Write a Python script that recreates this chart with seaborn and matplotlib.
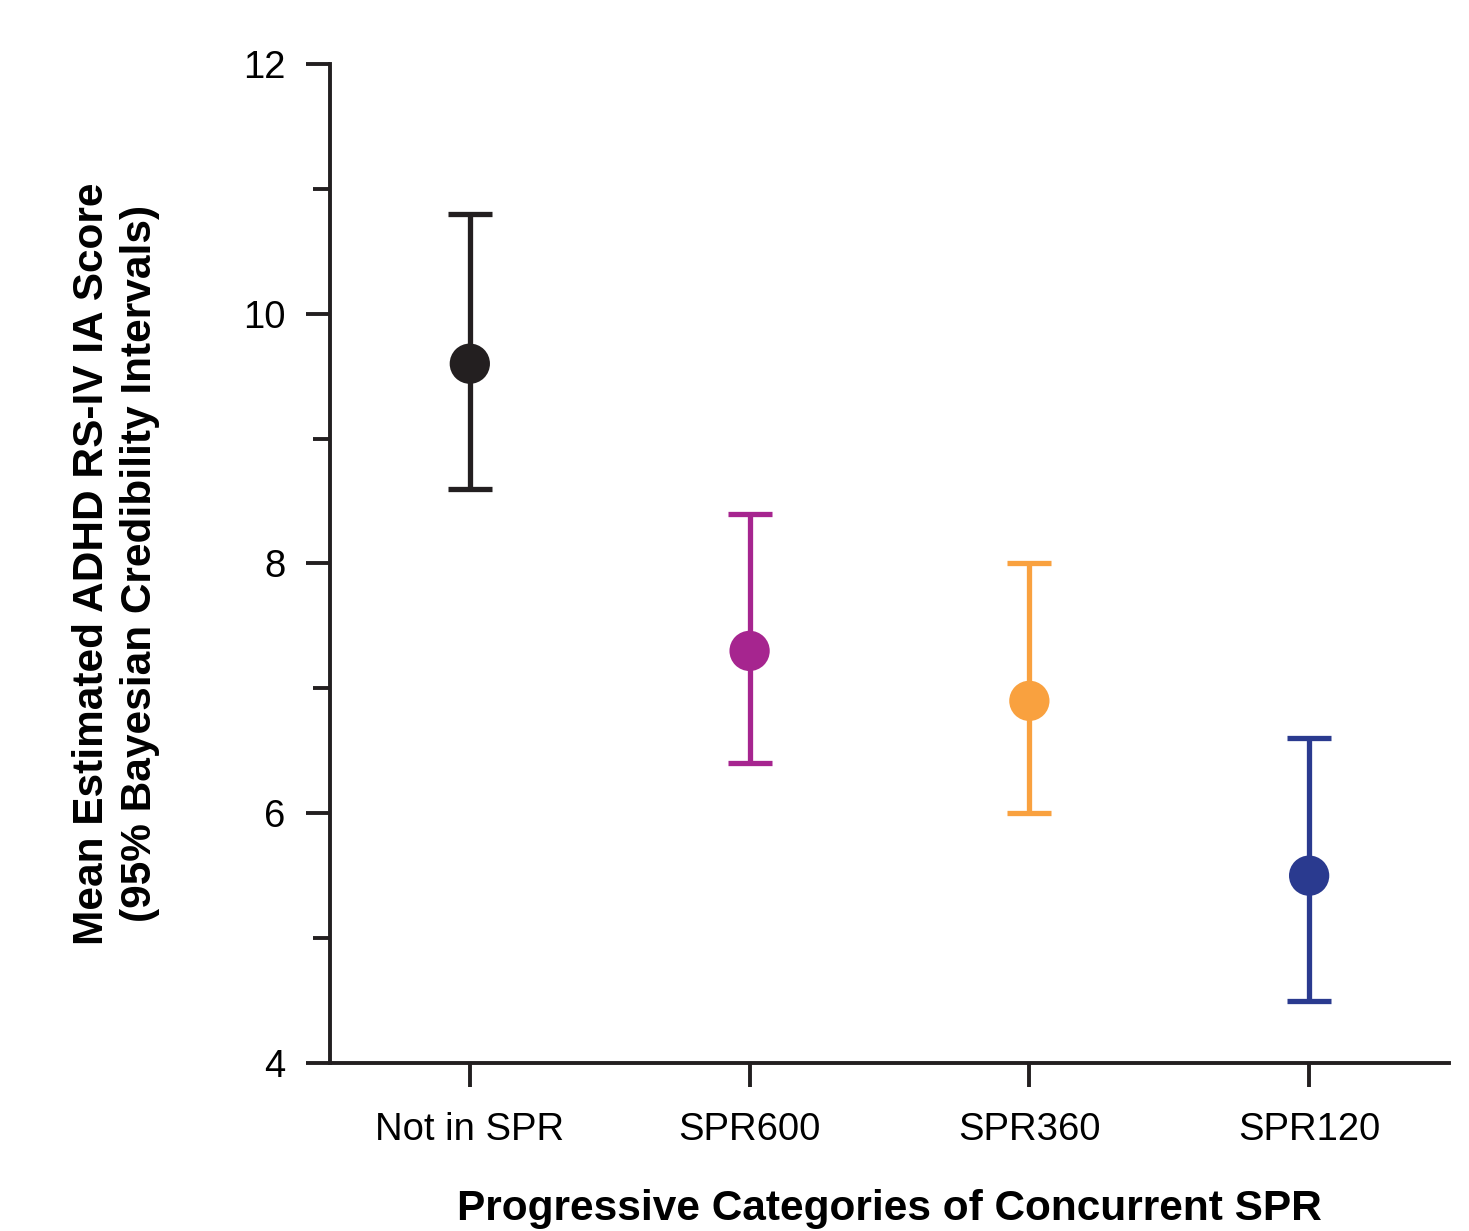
import pandas as pd
import numpy as np
import seaborn as sns
import matplotlib.pyplot as plt

categories = ['Not in SPR', 'SPR600', 'SPR360', 'SPR120']
means = [9.6, 7.3, 6.9, 5.5]
lower = [8.6, 6.4, 6.0, 4.5]
upper = [10.8, 8.4, 8.0, 6.6]
colors = ['#231f20', '#a6258f', '#f9a13f', '#2a3a8f']

df = pd.DataFrame({'group': categories, 'mean': means, 'lo': lower, 'hi': upper})

sns.set_style("ticks")
plt.rcParams['font.family'] = ['Liberation Sans', 'DejaVu Sans']

fig = plt.figure(figsize=(14.69, 12.31), dpi=100)
ax = fig.add_axes([0.2246, 0.1365, 0.7618, 0.8115])

# error bars first, so the dots sit on top
for i, row in df.iterrows():
    ax.errorbar(i, row['mean'],
                yerr=[[row['mean'] - row['lo']], [row['hi'] - row['mean']]],
                fmt='none', ecolor=colors[i], elinewidth=3.8, capsize=16, capthick=3.8,
                zorder=2)

sns.scatterplot(data=df, x='group', y='mean', hue='group', palette=colors,
                s=29**2, edgecolor='none', legend=False, zorder=3, ax=ax)

ax.set_xlim(-0.5, 3.5)
ax.set_ylim(4, 12)
ax.set_yticks([4, 6, 8, 10, 12])
ax.set_yticks([5, 7, 9, 11], minor=True)

for side in ['top', 'right']:
    ax.spines[side].set_visible(False)
for side in ['left', 'bottom']:
    ax.spines[side].set_linewidth(2.8)
    ax.spines[side].set_color('#231f20')

ax.tick_params(axis='both', which='major', labelsize=27.5, width=2.8, length=17,
               color='#231f20', labelcolor='black')
ax.tick_params(axis='y', which='minor', width=2.8, length=12, color='#231f20')
ax.tick_params(axis='x', pad=18)
ax.tick_params(axis='y', pad=15)

ax.set_xlabel('Progressive Categories of Concurrent SPR', fontsize=30.5,
              fontweight='bold', labelpad=30, color='black')
ax.set_ylabel('Mean Estimated ADHD RS-IV IA Score\n(95% Bayesian Credibility Intervals)',
              fontsize=30.5, fontweight='bold', labelpad=60, linespacing=1.25,
              color='black')

fig.savefig('out.png', dpi=100)
